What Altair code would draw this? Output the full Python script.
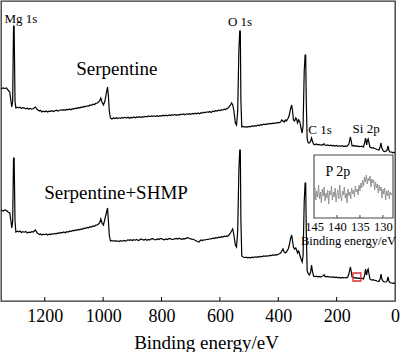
import altair as alt
import pandas as pd

# ---------------- data ----------------
# survey spectrum, Serpentine (binding energy eV, intensity a.u.)
top_spectrum = [
    (1350, 212), (1343, 213), (1337, 212.5), (1331, 213), (1326, 211), (1320, 209),
    (1316, 200), (1313, 194), (1310, 200), (1307, 275), (1305, 275), (1302, 200),
    (1299, 193), (1294, 193.8), (1290, 193.2), (1285, 193.9), (1280, 192.5), (1275, 193.4),
    (1270, 193), (1265, 192.2), (1260, 192.8), (1255, 191.9), (1250, 192.5),
    (1245, 191.8), (1240, 192.3), (1232, 194), (1226, 191.5), (1218, 190), (1214, 190.7),
    (1210, 189), (1205, 189.8), (1200, 189.2), (1195, 190), (1190, 189), (1185, 189.9),
    (1180, 189.6), (1175, 190.4), (1170, 189.5), (1165, 190.2), (1160, 190.8),
    (1155, 189.9), (1150, 190.5), (1145, 191.2), (1140, 190.6), (1135, 191.4),
    (1130, 190.7), (1125, 191.6), (1120, 191.2), (1115, 192), (1110, 191.3),
    (1105, 192.3), (1100, 192), (1095, 192.9), (1090, 192.4), (1085, 193.5),
    (1080, 193), (1075, 194), (1070, 193.7), (1065, 194.6), (1060, 194.3),
    (1055, 195.2), (1050, 195), (1045, 196), (1040, 195.6), (1035, 196.8),
    (1030, 196.5), (1025, 197.6), (1020, 198), (1016, 199), (1012, 200), (1008, 203),
    (1004, 199), (999, 196), (994, 200), (989, 208), (985, 214), (982, 205),
    (979, 190), (975, 183), (970, 182), (965, 183), (960, 182.4), (955, 183.3),
    (950, 182.5), (945, 183.2), (940, 182.6), (935, 183.5), (930, 183), (925, 183.7),
    (920, 183), (915, 183.8), (910, 182.8), (905, 183.6), (900, 183.2), (895, 184),
    (890, 183.2), (885, 184.1), (880, 183.6), (875, 184.3), (870, 183.5), (865, 184.4),
    (860, 183.9), (855, 184.7), (850, 184.2), (845, 185), (840, 184.3), (835, 185.1),
    (830, 184.6), (825, 185.2), (820, 184.5), (815, 185.3), (810, 184.4), (805, 185.4),
    (800, 185), (795, 185.8), (790, 185.2), (785, 185.9), (780, 185.1), (775, 186),
    (770, 185.5), (765, 186.3), (760, 185.8), (755, 186.5), (750, 185.6), (745, 186.4),
    (740, 186), (735, 186.8), (730, 186.3), (725, 187), (720, 186.2), (715, 187.2),
    (710, 186.7), (705, 187.4), (700, 186.6), (695, 187.5), (690, 187), (685, 187.9),
    (680, 187.2), (675, 188), (670, 187.3), (665, 188.3), (660, 187.8), (655, 188.8),
    (650, 188.3), (645, 189.2), (640, 188.7), (635, 189.5), (630, 188.6), (625, 189.8),
    (620, 189.4), (615, 190.3), (610, 189.9), (605, 190.8), (600, 190.3), (595, 191.3),
    (590, 190.8), (585, 191.9), (580, 191.4), (576, 192.4), (572, 193), (566, 195),
    (560, 198), (556, 196), (552, 190), (547, 178), (543, 176), (539, 190),
    (535, 250), (532, 270), (530, 270), (528, 200), (525, 174), (520, 174.5),
    (515, 173.8), (510, 174.4), (505, 173.9), (500, 174.6), (495, 174.1), (490, 175),
    (485, 174.6), (480, 175.4), (475, 175), (470, 175.9), (465, 175.4), (460, 176.3),
    (455, 176), (450, 176.9), (445, 176.4), (440, 177.2), (435, 176.8), (430, 177.6),
    (425, 177.1), (420, 177.8), (415, 177.4), (410, 178.2), (405, 177.9), (400, 178.6),
    (396, 178.3), (392, 179), (388, 181), (384, 180), (380, 179), (376, 181),
    (372, 180), (366, 183), (362, 186), (358, 192), (354, 196), (351, 190),
    (348, 181), (344, 180), (340, 183), (337, 182), (334, 178), (330, 181),
    (326, 179), (322, 173), (318, 168), (315, 175), (311, 230), (308, 246),
    (306, 246), (304, 200), (301, 162), (297, 158), (293, 158), (289, 160),
    (286, 163), (283, 160), (279, 157), (275, 156.3), (270, 157), (265, 156.2),
    (260, 156.6), (255, 155.8), (250, 156.3), (246, 156.2), (243, 157.3), (240, 156),
    (235, 155.6), (230, 156.1), (225, 155.3), (220, 155.8), (215, 155.1), (210, 155.6),
    (205, 154.9), (200, 155.5), (195, 154.7), (190, 155.2), (185, 154.6), (180, 155.3),
    (175, 154.5), (170, 155), (166, 154.6), (162, 155.4), (158, 157), (153, 164),
    (150, 160), (147, 155), (142, 155.5), (138, 154.8), (135, 155.3), (130, 154.6),
    (125, 154.9), (120, 154.3), (115, 154.8), (108, 154), (104, 158), (101, 163),
    (99, 160), (97, 156), (95, 160), (92, 162), (89, 158), (86, 154),
    (83, 153.5), (80, 153), (75, 153.3), (70, 152.5), (66, 152.3), (62, 151.5),
    (55, 151), (51, 154), (48, 158), (45, 153), (40, 150), (35, 149.5),
    (30, 150), (27, 151), (24, 155), (21, 151), (18, 149), (12, 149),
    (8, 148.2), (5, 148.7), (0, 148),
]

# survey spectrum, Serpentine+SHMP
bottom_spectrum = [
    (1350, 91), (1343, 90), (1337, 91), (1331, 90.5), (1326, 89), (1320, 88),
    (1316, 80), (1313, 73), (1310, 80), (1307, 143), (1305, 143), (1302, 80),
    (1299, 69), (1294, 69.8), (1290, 69.2), (1285, 70), (1280, 68.5), (1275, 69.4),
    (1270, 68.8), (1265, 69.5), (1260, 68), (1255, 68.9), (1250, 68.4), (1245, 69.3),
    (1240, 69), (1232, 71), (1226, 68), (1222, 67.2), (1218, 66.5), (1214, 67.1),
    (1210, 66), (1205, 66.8), (1200, 66.3), (1195, 67), (1190, 66), (1185, 66.9),
    (1180, 66.4), (1175, 67.3), (1170, 66.8), (1165, 67.6), (1160, 67.2), (1155, 68.1),
    (1150, 67.7), (1145, 68.6), (1140, 68.2), (1135, 69), (1130, 68.3), (1125, 69.3),
    (1120, 68.9), (1115, 69.8), (1110, 69.6), (1105, 70.5), (1100, 70.1), (1095, 71),
    (1090, 70.7), (1085, 71.6), (1080, 71.2), (1075, 72.2), (1070, 71.8), (1065, 72.8),
    (1060, 72.6), (1055, 73.6), (1050, 73.2), (1045, 74.3), (1040, 73.9), (1035, 75),
    (1030, 74.7), (1025, 75.9), (1020, 76), (1016, 77), (1012, 78), (1008, 82),
    (1004, 78), (999, 76), (994, 82), (989, 88), (985, 93), (982, 80),
    (979, 66), (975, 60), (970, 60.5), (965, 59.8), (960, 60.4), (955, 59.6),
    (950, 60.2), (945, 59.5), (940, 60.3), (935, 59.8), (930, 60.6), (925, 59.9),
    (920, 60.4), (915, 61.2), (910, 60.6), (905, 61.3), (900, 60.5), (895, 61.4),
    (890, 60.8), (885, 61.6), (880, 60.4), (875, 61.1), (870, 62), (865, 61.3),
    (860, 61), (855, 61.7), (850, 60.8), (845, 61.5), (840, 61), (835, 62.2),
    (830, 62.4), (825, 61.5), (820, 61.2), (815, 62), (810, 61.4), (805, 62.3),
    (800, 62.5), (795, 61.6), (790, 61.2), (785, 62), (780, 61.5), (775, 62.3),
    (770, 62.4), (765, 61.7), (760, 61.5), (755, 62.2), (750, 62.6), (745, 62),
    (740, 62.8), (735, 62.1), (730, 61.7), (725, 62.4), (720, 62.2), (715, 62.9),
    (710, 63.3), (705, 62.5), (700, 62.2), (695, 61.8), (690, 61.5), (685, 60.7),
    (680, 60), (676, 59.2), (672, 59), (668, 60.2), (665, 61), (660, 60.5),
    (655, 61.2), (650, 61), (645, 61.7), (640, 61.5), (635, 62.2), (630, 62),
    (625, 62.8), (620, 62.5), (615, 63.3), (610, 63), (605, 63.8), (600, 63.5),
    (595, 64.3), (590, 64), (585, 64.8), (580, 64.5), (576, 65.2), (572, 65),
    (566, 67), (560, 70), (556, 72), (552, 66), (547, 56), (543, 54),
    (539, 70), (535, 130), (532, 151), (530, 151), (528, 80), (525, 45),
    (520, 44), (515, 43.3), (510, 43.8), (505, 43.1), (500, 43.6), (495, 43.2),
    (490, 43.9), (485, 43.4), (480, 44.2), (475, 43.7), (470, 44.3), (465, 43.9),
    (460, 44.7), (455, 44.3), (450, 45.1), (445, 44.6), (440, 45.2), (435, 44.8),
    (430, 45.7), (425, 45.3), (420, 46.1), (415, 45.6), (410, 46.3), (405, 45.9),
    (400, 46.7), (396, 47.2), (392, 48), (388, 50), (384, 52), (380, 49),
    (376, 48), (372, 49), (366, 52), (362, 56), (358, 62), (354, 66),
    (351, 60), (348, 54), (344, 52), (340, 53), (337, 51), (334, 48),
    (330, 50), (326, 46), (322, 42), (318, 39), (315, 45), (311, 100),
    (308, 118), (306, 118), (304, 70), (301, 30), (297, 27), (293, 26),
    (289, 29), (286, 36), (283, 30), (279, 25), (275, 24.3), (270, 24.9),
    (265, 24.2), (260, 24.6), (255, 24), (250, 24.7), (246, 25.2), (243, 26.2),
    (240, 24.6), (235, 24.1), (230, 24.5), (225, 23.8), (220, 24.2), (215, 23.6),
    (210, 24.1), (205, 23.4), (200, 23.9), (195, 23.2), (190, 23.6), (185, 23),
    (180, 23.6), (175, 23.1), (170, 23.5), (166, 23.2), (162, 24), (158, 27),
    (153, 34), (150, 30), (147, 24), (142, 23.5), (138, 22.9), (135, 23.4),
    (130, 22.6), (125, 23.1), (120, 22.4), (115, 22.9), (108, 22), (104, 26),
    (101, 32), (99, 28), (97, 26), (95, 30), (92, 32), (89, 27),
    (86, 22), (83, 21.4), (80, 21), (75, 21.3), (70, 20.5), (66, 20.6),
    (62, 20), (55, 19.5), (51, 22), (48, 27), (45, 22), (40, 19.5),
    (35, 19), (30, 19.2), (27, 20), (24, 24), (21, 20), (18, 18.5),
    (12, 18), (8, 17.6), (5, 18.1), (0, 17.5),
]

# P 2p high-resolution inset (145.0 -> 128.0 eV, 0.2 eV steps)
p2p_energy = [round(145.0 - 0.2 * i, 1) for i in range(86)]
p2p_counts = [
    24, 30, 18, 27, 21, 33, 19, 26, 15, 29,
    22, 31, 17, 25, 20, 28, 14, 27, 23, 32,
    18, 26, 21, 30, 16, 24, 28, 19, 33, 22,
    17, 27, 23, 31, 20, 25, 15, 29, 22, 26,
    19, 30, 24, 28, 21, 32, 26, 29, 23, 33,
    27, 35, 30, 38, 32, 41, 36, 43, 34, 40,
    37, 42, 31, 39, 35, 38, 28, 36, 30, 34,
    25, 33, 27, 31, 20, 29, 24, 30, 18, 27,
    22, 28, 19, 26, 23, 25,
]

main_ticks = [1200, 1000, 800, 600, 400, 200]
main_labels = [1200, 1000, 800, 600, 400, 200, 0]
inset_ticks = [140, 135, 130]
inset_labels = [145, 140, 135, 130]

sample_labels = ["Serpentine", "Serpentine+SHMP"]
sample_label_ev = [953, 956]
sample_label_y = [232, 108]

peak_labels = ["Mg 1s", "O 1s", "C 1s", "Si 2p"]
peak_label_ev = [1282, 531, 257, 99]
peak_label_y = [282, 279, 171, 172]

marker_ev = [144, 117]        # red box around P 2p region
marker_y = [20, 28]

inset_frame_ev = [145, 127.8]
inset_frame_y = [0, 63]

# ---------------- build ----------------
FONT = "Liberation Serif"

top_df = pd.DataFrame(top_spectrum, columns=["eV", "value"])
bot_df = pd.DataFrame(bottom_spectrum, columns=["eV", "value"])
p2p_df = pd.DataFrame({"eV": p2p_energy, "value": p2p_counts})


def xs():
    return alt.Scale(domain=[1350, 0], nice=False, zero=False)


def ys():
    return alt.Scale(domain=[0, 300], nice=False, zero=False)


def ixs():
    return alt.Scale(domain=inset_frame_ev, range=[313, 392], nice=False, zero=False)


def iys():
    return alt.Scale(domain=inset_frame_y, range=[217, 154], nice=False, zero=False)


main_axis = alt.Axis(
    orient="bottom", values=main_labels, format="d", ticks=False, domain=False,
    grid=False, labelFont=FONT, labelFontSize=18, labelColor="black", labelPadding=6,
    labelFlush=False,
    title="Binding energy/eV", titleFont=FONT, titleFontSize=19,
    titleFontWeight="normal", titleColor="black",
    titleX=205, titleY=41, titleBaseline="middle", titleAlign="center",
)

inset_axis = alt.Axis(
    orient="bottom", offset=-83, values=inset_labels, format="d", ticks=False,
    domain=False, grid=False, labelFont=FONT, labelFontSize=12.5, labelColor="black",
    labelPadding=2, labelFlush=False,
    title="Binding energy/eV", titleFont=FONT, titleFontSize=12.5,
    titleFontWeight="normal", titleColor="black",
    titleX=347, titleY=22, titleBaseline="middle", titleAlign="center",
)

LINE_W = 1.2

top_line = alt.Chart(top_df).mark_line(color="black", strokeWidth=LINE_W).encode(
    x=alt.X("eV:Q", scale=xs(), axis=main_axis),
    y=alt.Y("value:Q", scale=ys(), axis=None),
)
bot_line = alt.Chart(bot_df).mark_line(color="black", strokeWidth=LINE_W).encode(
    x=alt.X("eV:Q", scale=xs(), axis=None),
    y=alt.Y("value:Q", scale=ys(), axis=None),
)

tick_df = pd.DataFrame({"eV": main_ticks})
tick_rules = alt.Chart(tick_df).mark_rule(color="black", strokeWidth=1).encode(
    x=alt.X("eV:Q", scale=xs(), axis=None),
    y=alt.YDatum(0, scale=ys(), axis=None),
    y2=alt.Y2Datum(4),
)

sample_df = pd.DataFrame({"t": sample_labels, "eV": sample_label_ev, "value": sample_label_y})
sample_text = alt.Chart(sample_df).mark_text(
    font=FONT, fontSize=19, color="black", align="center", baseline="middle"
).encode(
    x=alt.X("eV:Q", scale=xs(), axis=None),
    y=alt.Y("value:Q", scale=ys(), axis=None),
    text="t:N",
)

peak_df = pd.DataFrame({"t": peak_labels, "eV": peak_label_ev, "value": peak_label_y})
peak_text = alt.Chart(peak_df).mark_text(
    font=FONT, fontSize=13, color="black", align="center", baseline="middle"
).encode(
    x=alt.X("eV:Q", scale=xs(), axis=None),
    y=alt.Y("value:Q", scale=ys(), axis=None),
    text="t:N",
)

marker_df = pd.DataFrame({"eV": [marker_ev[0]], "eV2": [marker_ev[1]],
                          "value": [marker_y[0]], "value2": [marker_y[1]]})
marker = alt.Chart(marker_df).mark_rect(
    fillOpacity=0, stroke="#e02a2a", strokeWidth=1.3
).encode(
    x=alt.X("eV:Q", scale=xs(), axis=None), x2="eV2:Q",
    y=alt.Y("value:Q", scale=ys(), axis=None), y2="value2:Q",
)

# ----- inset -----
frame_df = pd.DataFrame({"eV": [inset_frame_ev[0]], "eV2": [inset_frame_ev[1]],
                         "value": [inset_frame_y[0]], "value2": [inset_frame_y[1]]})
inset_frame = alt.Chart(frame_df).mark_rect(
    fill="white", stroke="#444", strokeWidth=1.1
).encode(
    x=alt.X("eV:Q", scale=ixs(), axis=None), x2="eV2:Q",
    y=alt.Y("value:Q", scale=iys(), axis=None), y2="value2:Q",
)

p2p_line = alt.Chart(p2p_df).mark_line(color="#8c8c8c", strokeWidth=0.9).encode(
    x=alt.X("eV:Q", scale=ixs(), axis=inset_axis),
    y=alt.Y("value:Q", scale=iys(), axis=None),
)

itick_df = pd.DataFrame({"eV": inset_ticks})
inset_tick_rules = alt.Chart(itick_df).mark_rule(color="#444", strokeWidth=1).encode(
    x=alt.X("eV:Q", scale=ixs(), axis=None),
    y=alt.YDatum(0, scale=iys(), axis=None),
    y2=alt.Y2Datum(3),
)

p_label = alt.Chart(pd.DataFrame({"t": ["P 2p"], "eV": [139.8], "value": [46]})).mark_text(
    font=FONT, fontSize=14, color="black", align="center", baseline="middle"
).encode(
    x=alt.X("eV:Q", scale=ixs(), axis=None),
    y=alt.Y("value:Q", scale=iys(), axis=None),
    text="t:N",
)

chart = (
    alt.layer(top_line, bot_line, tick_rules, sample_text, peak_text, marker,
              inset_frame, p2p_line, inset_tick_rules, p_label)
    .resolve_scale(x="independent", y="independent")
    .properties(
        width=394, height=300,
        padding={"left": 1, "top": 1, "right": 5, "bottom": 51},
        autosize=alt.AutoSizeParams(type="none"),
        background="white",
    )
    .configure_view(stroke="#333", strokeWidth=1.3)
)

chart.save("out.html", embed_options={"renderer": "svg", "actions": False})
